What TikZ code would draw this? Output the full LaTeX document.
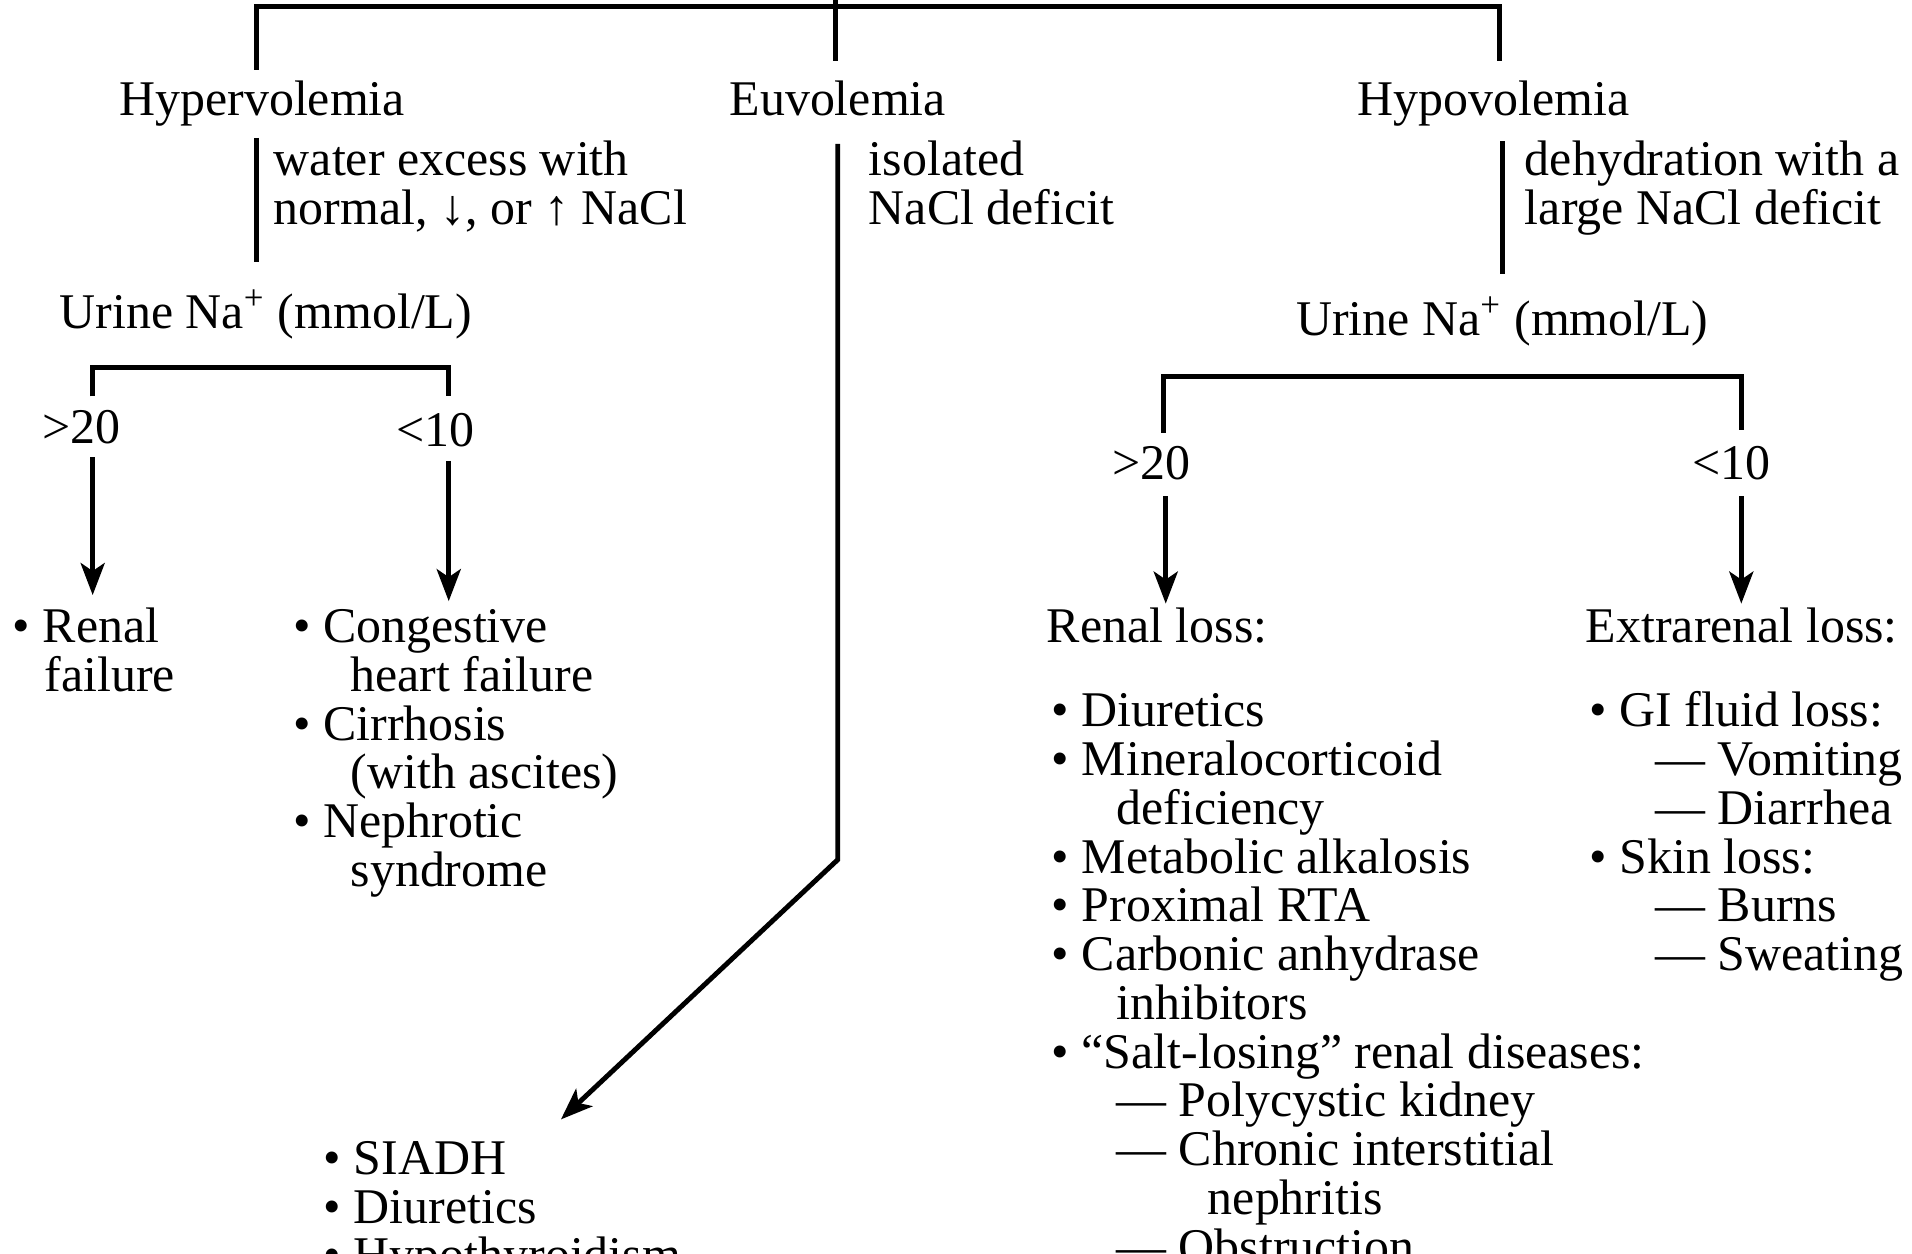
\documentclass[tikz,border=0pt]{standalone}
\usepackage{fontspec}
\setmainfont{Liberation Serif}
\usetikzlibrary{arrows.meta}
\begin{document}
\begin{tikzpicture}[x=0.012194cm,y=-0.012194cm,
  txt/.style={inner sep=0pt,font=\fontsize{14.2pt}{13.8pt}\selectfont},
  lft/.style={txt,anchor=base west},
  ctr/.style={txt,anchor=base},
  link/.style={line width=1.4pt},
  arr/.style={link,-{Stealth[length=0.32cm,width=0.24cm,inset=0.08cm]}}]
\useasboundingbox (0,0) rectangle (1568,1028);
\clip (0,0) rectangle (1568,1028);

% ---- top split into the three volume states
\coordinate (root) at (685,-20);
\coordinate (topmid) at (685,5);
\coordinate (topR) at (1230,5);
\coordinate (hyperIn) at (210,57);
\coordinate (euIn) at (685,50);
\coordinate (hypoIn) at (1230,50);
\draw[link] (root) -- (topmid) -- (euIn);
\draw[link] (hyperIn) |- (topR) -- (hypoIn);

\node[ctr] (hyper) at (215,95) {Hypervolemia};
\node[ctr] (eu) at (687,95) {Euvolemia};
\node[ctr] (hypo) at (1225,95) {Hypovolemia};

% ---- hypervolemia branch
\coordinate (hyperA) at (210,113);
\coordinate (hyperB) at (210,215);
\draw[link] (hyperA) -- (hyperB);
\node[lft] (hyperinfoA) at (224,144) {water excess with};
\node[lft] (hyperinfoB) at (224,184) {normal, ↓, or ↑ NaCl};
\node[ctr] (urineL) at (218,269) {Urine Na\textsuperscript{+} (mmol/L)};

\coordinate (lbL) at (76,325);
\coordinate (lbTop) at (222,301);
\coordinate (lbR) at (368,325);
\draw[link] (lbL) |- (lbTop) -| (lbR);
\node[ctr] (gtL) at (67,364) {>20};
\node[ctr] (ltL) at (357,366) {<10};
\coordinate (gtLa) at (76,375);
\coordinate (gtLb) at (76,488);
\coordinate (ltLa) at (368,378);
\coordinate (ltLb) at (368,493);
\draw[arr] (gtLa) -- (gtLb);
\draw[arr] (ltLa) -- (ltLb);

\node[lft] (rf1) at (10,527) {• Renal};
\node[lft] (rf2) at (36,567) {failure};
\node[lft] (ed1) at (240,527) {• Congestive};
\node[lft] (ed2) at (287,567) {heart failure};
\node[lft] (ed3) at (240,607) {• Cirrhosis};
\node[lft] (ed4) at (287,647) {(with ascites)};
\node[lft] (ed5) at (240,687) {• Nephrotic};
\node[lft] (ed6) at (287,727) {syndrome};

% ---- euvolemia branch
\coordinate (euA) at (687,118);
\coordinate (euBend) at (687,705);
\coordinate (euTip) at (460,918);
\node[lft] (euinfoA) at (712,144) {isolated};
\node[lft] (euinfoB) at (712,184) {NaCl deficit};
\draw[arr] (euA) -- (euBend) -- (euTip);

\node[lft] (eq1) at (265,963) {• SIADH};
\node[lft] (eq2) at (265,1003) {• Diuretics};
\node[lft] (eq3) at (265,1043) {• Hypothyroidism};

% ---- hypovolemia branch
\coordinate (hypoA) at (1232,116);
\coordinate (hypoB) at (1232,225);
\draw[link] (hypoA) -- (hypoB);
\node[lft] (hypoinfoA) at (1250,144) {dehydration with a};
\node[lft] (hypoinfoB) at (1250,184) {large NaCl deficit};
\node[ctr] (urineR) at (1232,275) {Urine Na\textsuperscript{+} (mmol/L)};

\coordinate (rbL) at (954,355);
\coordinate (rbTop) at (1190,309);
\coordinate (rbR) at (1428,353);
\draw[link] (rbL) |- (rbTop) -| (rbR);
\node[ctr] (gtR) at (944,393) {>20};
\node[ctr] (ltR) at (1420,393) {<10};
\coordinate (gtRa) at (956,407);
\coordinate (gtRb) at (956,495);
\coordinate (ltRa) at (1428,407);
\coordinate (ltRb) at (1428,495);
\draw[arr] (gtRa) -- (gtRb);
\draw[arr] (ltRa) -- (ltRb);

\node[lft] (renal) at (858,527) {Renal loss:};
\node[lft] (extra) at (1300,527) {Extrarenal loss:};

\node[lft] (rl1) at (862,596) {• Diuretics};
\node[lft] (rl2) at (862,636) {• Mineralocorticoid};
\node[lft] (rl3) at (915,676) {deficiency};
\node[lft] (rl4) at (862,716) {• Metabolic alkalosis};
\node[lft] (rl5) at (862,756) {• Proximal RTA};
\node[lft] (rl6) at (862,796) {• Carbonic anhydrase};
\node[lft] (rl7) at (915,836) {inhibitors};
\node[lft] (rl8) at (862,876) {• “Salt-losing” renal diseases:};
\node[lft] (rl9) at (915,916) {— Polycystic kidney};
\node[lft] (rl10) at (915,956) {— Chronic interstitial};
\node[lft] (rl11) at (990,996) {nephritis};
\node[lft] (rl12) at (915,1036) {— Obstruction};

\node[lft] (xl1) at (1303,596) {• GI fluid loss:};
\node[lft] (xl2) at (1357,636) {— Vomiting};
\node[lft] (xl3) at (1357,676) {— Diarrhea};
\node[lft] (xl4) at (1303,716) {• Skin loss:};
\node[lft] (xl5) at (1357,756) {— Burns};
\node[lft] (xl6) at (1357,796) {— Sweating};
\end{tikzpicture}
\end{document}
